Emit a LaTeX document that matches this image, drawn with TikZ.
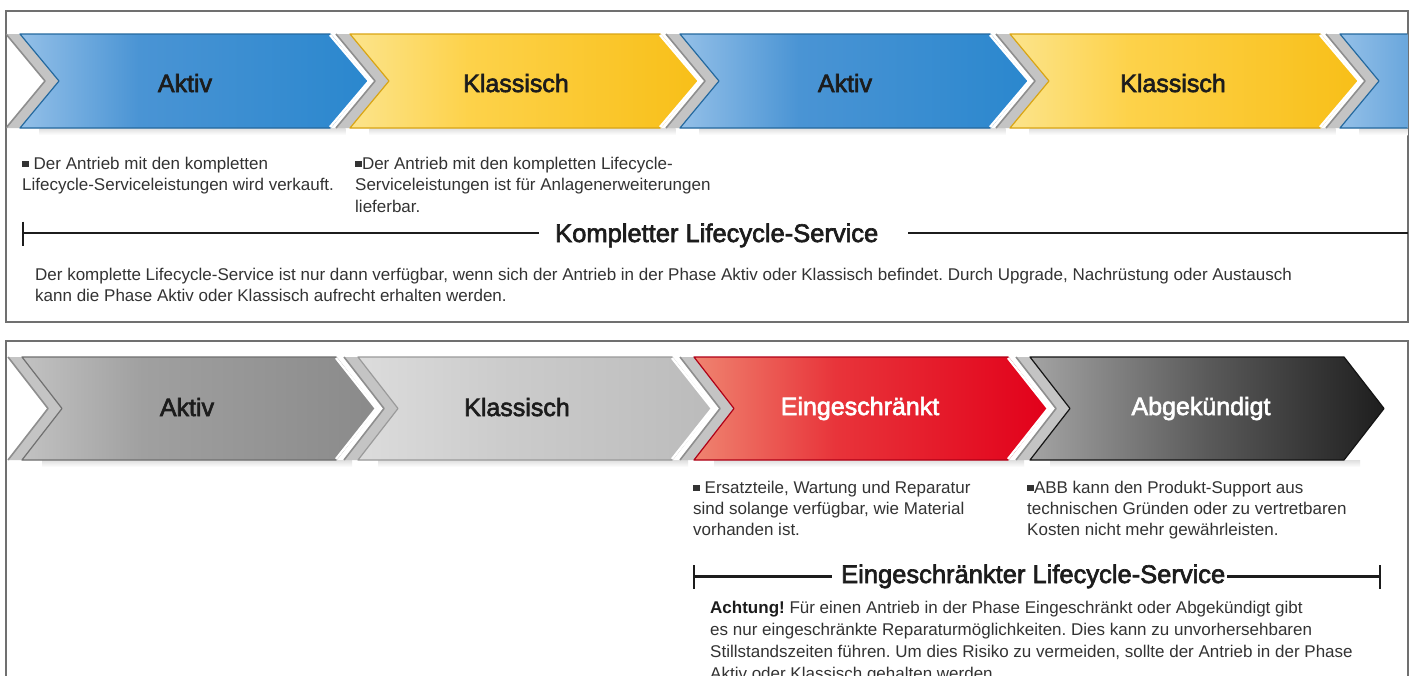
\documentclass[tikz,border=0pt]{standalone}
\usepackage{fontspec}
\setmainfont{Liberation Sans}
\newfontfamily\medfont[FakeBold=2.5]{Liberation Sans}
\usetikzlibrary{calc}

\definecolor{framec}{HTML}{707070}
\definecolor{dark}{HTML}{1C1C1C}
\definecolor{txt}{HTML}{333333}
\definecolor{shad}{HTML}{C4C4C4}
\definecolor{shadedge}{HTML}{8E8E8E}
\definecolor{blueL}{HTML}{94C0E8}
\definecolor{blueM}{HTML}{4A94D4}
\definecolor{blueR}{HTML}{2A87CE}
\definecolor{blueE}{HTML}{24699F}
\definecolor{yelL}{HTML}{FCE48C}
\definecolor{yelM}{HTML}{FDD24A}
\definecolor{yelR}{HTML}{F8BF18}
\definecolor{yelE}{HTML}{D9A514}
\definecolor{g1L}{HTML}{C2C2C2}
\definecolor{g1M}{HTML}{A0A0A0}
\definecolor{g1R}{HTML}{8A8A8A}
\definecolor{g1E}{HTML}{707070}
\definecolor{g2L}{HTML}{DCDCDC}
\definecolor{g2M}{HTML}{CCCCCC}
\definecolor{g2R}{HTML}{BBBBBB}
\definecolor{g2E}{HTML}{9A9A9A}
\definecolor{redL}{HTML}{EF8470}
\definecolor{redM}{HTML}{E8343A}
\definecolor{redR}{HTML}{E2001A}
\definecolor{redE}{HTML}{B00016}
\definecolor{blkL}{HTML}{A4A4A4}
\definecolor{blkM}{HTML}{5A5A5A}
\definecolor{blkR}{HTML}{1E1E1E}
\definecolor{blkE}{HTML}{141414}

\pgfdeclarehorizontalshading{blueshade}{100bp}{color(0bp)=(blueL); color(25bp)=(blueL); color(42bp)=(blueM); color(75bp)=(blueR); color(100bp)=(blueR)}
\pgfdeclarehorizontalshading{yelshade}{100bp}{color(0bp)=(yelL); color(25bp)=(yelL); color(42bp)=(yelM); color(75bp)=(yelR); color(100bp)=(yelR)}
\pgfdeclarehorizontalshading{g1shade}{100bp}{color(0bp)=(g1L); color(25bp)=(g1L); color(42bp)=(g1M); color(75bp)=(g1R); color(100bp)=(g1R)}
\pgfdeclarehorizontalshading{g2shade}{100bp}{color(0bp)=(g2L); color(25bp)=(g2L); color(45bp)=(g2M); color(75bp)=(g2R); color(100bp)=(g2R)}
\pgfdeclarehorizontalshading{redshade}{100bp}{color(0bp)=(redL); color(25bp)=(redL); color(45bp)=(redM); color(75bp)=(redR); color(100bp)=(redR)}
\pgfdeclarehorizontalshading{blkshade}{100bp}{color(0bp)=(blkL); color(25bp)=(blkL); color(50bp)=(blkM); color(75bp)=(blkR); color(100bp)=(blkR)}

% chevron: #1 x, #2 ytop, #3 ybot, #4 body width, #5 depth, #6 options
\newcommand\chev[6]{\path[#6] (#1,#2) -- ({#1+#4},#2) -- ({#1+#4+#5},{(#2+#3)/2}) -- ({#1+#4},#3) -- (#1,#3) -- ({#1+#5},{(#2+#3)/2}) -- cycle;}
% back shadow of a chevron
\newcommand\chevshadow[5]{%
  \chev{#1-14}{#2}{#3}{#4}{#5}{fill=shad}
  \draw[shadedge, line width=1.6pt, line join=round] ({#1-14},#2) -- ({#1-14+#5},{(#2+#3)/2}) -- ({#1-14},#3);
  \shade[top color=black!13, bottom color=white] ({#1+#5*0.5},#3) rectangle ({#1+#4+#5*0.4},{#3+7});}
% white highlight on the tip
\newcommand\chevtip[5]{\draw[white, line width=2.4pt, line join=round] ({#1+#4},{#2+1}) -- ({#1+#4+#5},{(#2+#3)/2}) -- ({#1+#4},{#3-1});}

\newcommand\sq{\rule[0.1em]{0.4em}{0.4em}}

\tikzset{
  lbl/.style={font=\medfont\fontsize{25}{30}\selectfont, text=dark, inner sep=0pt, anchor=base},
  lblw/.style={lbl, text=white},
  head/.style={font=\medfont\fontsize{25.5}{30}\selectfont, text=dark, inner sep=0pt, anchor=base west},
  body/.style={font=\fontsize{17}{21}\selectfont\frenchspacing, text=txt, inner sep=0pt, anchor=base west},
  frame/.style={draw=framec, line width=1.4pt},
  rulel/.style={draw=dark, line width=2.4pt},
  tick/.style={draw=dark, line width=2pt},
}

\begin{document}
\begin{tikzpicture}[x=1pt, y=-1pt]
\path[use as bounding box] (0,0) rectangle (1411,675);
\clip (0,0) rectangle (1411,675);
\fill[white] (0,0) rectangle (1411,675);

% ---------------- top panel ----------------
\draw[frame] (6,11) rectangle (1408,322);
\begin{scope}
\clip (6.7,11.7) rectangle (1407.3,321.3);
\foreach \x in {20,350,680,1010,1340}{\chevshadow{\x}{34}{128}{310}{39}}
\chev{20}{34}{128}{310}{39}{shading=blueshade}
\chev{20}{34}{128}{310}{39}{draw=blueE, line width=1.2pt, line join=round}
\chevtip{20}{34}{128}{310}{39}
\chev{350}{34}{128}{310}{39}{shading=yelshade}
\chev{350}{34}{128}{310}{39}{draw=yelE, line width=1.2pt, line join=round}
\chevtip{350}{34}{128}{310}{39}
\chev{680}{34}{128}{310}{39}{shading=blueshade}
\chev{680}{34}{128}{310}{39}{draw=blueE, line width=1.2pt, line join=round}
\chevtip{680}{34}{128}{310}{39}
\chev{1010}{34}{128}{310}{39}{shading=yelshade}
\chev{1010}{34}{128}{310}{39}{draw=yelE, line width=1.2pt, line join=round}
\chevtip{1010}{34}{128}{310}{39}
\chev{1340}{34}{128}{310}{39}{shading=blueshade}
\chev{1340}{34}{128}{310}{39}{draw=blueE, line width=1.2pt, line join=round}
\end{scope}

\node[lbl] (ta1) at (185,92) {Aktiv};
\node[lbl] (tk1) at (516,92) {Klassisch};
\node[lbl] (ta2) at (845,92) {Aktiv};
\node[lbl] (tk2) at (1173,92) {Klassisch};

\node[body] (b1a) at (22,169) {\sq{} Der Antrieb mit den kompletten};
\node[body] (b1b) at (22,190.5) {Lifecycle-Serviceleistungen wird verkauft.};
\node[body] (b2a) at (355,169) {\sq{}Der Antrieb mit den kompletten Lifecycle-};
\node[body] (b2b) at (355,190.5) {Serviceleistungen ist für Anlagenerweiterungen};
\node[body] (b2c) at (355,212) {lieferbar.};

\node[head] (hk) at (555,242) {Kompletter Lifecycle-Service};
\coordinate (hkL0) at (23,233);
\coordinate (hkL1) at (539,233);
\coordinate (hkR0) at (908,233);
\coordinate (hkR1) at (1408,233);
\draw[rulel] (hkL0) -- (hkL1);
\draw[rulel] (hkR0) -- (hkR1);
\draw[tick] (23,221.5) -- (23,245.5);

\node[body] (p1a) at (35,280) {Der komplette Lifecycle-Service ist nur dann verfügbar, wenn sich der Antrieb in der Phase Aktiv oder Klassisch befindet. Durch Upgrade, Nachrüstung oder Austausch};
\node[body] (p1b) at (35,301.5) {kann die Phase Aktiv oder Klassisch aufrecht erhalten werden.};

% ---------------- bottom panel ----------------
\draw[frame] (6,700) -- (6,341) -- (1408,341) -- (1408,700);
\foreach \x in {22,358,694,1030}{\chevshadow{\x}{357}{460}{314}{40}}
\chev{22}{357}{460}{314}{40}{shading=g1shade}
\chev{22}{357}{460}{314}{40}{draw=g1E, line width=1.2pt, line join=round}
\chevtip{22}{357}{460}{314}{40}
\chev{358}{357}{460}{314}{40}{shading=g2shade}
\chev{358}{357}{460}{314}{40}{draw=g2E, line width=1.2pt, line join=round}
\chevtip{358}{357}{460}{314}{40}
\chev{694}{357}{460}{314}{40}{shading=redshade}
\chev{694}{357}{460}{314}{40}{draw=redE, line width=1.2pt, line join=round}
\chevtip{694}{357}{460}{314}{40}
\chev{1030}{357}{460}{314}{40}{shading=blkshade}
\chev{1030}{357}{460}{314}{40}{draw=blkE, line width=1.2pt, line join=round}

\node[lbl] (ba1) at (187,416) {Aktiv};
\node[lbl] (bk1) at (517,416) {Klassisch};
\node[lblw] (be1) at (860,415) {Eingeschränkt};
\node[lblw] (bg1) at (1201,415) {Abgekündigt};

\node[body] (c1a) at (693,493) {\sq{} Ersatzteile, Wartung und Reparatur};
\node[body] (c1b) at (693,514) {sind solange verfügbar, wie Material};
\node[body] (c1c) at (693,535) {vorhanden ist.};
\node[body] (c2a) at (1027,493) {\sq{}ABB kann den Produkt-Support aus};
\node[body] (c2b) at (1027,514) {technischen Gründen oder zu vertretbaren};
\node[body] (c2c) at (1027,535) {Kosten nicht mehr gewährleisten.};

\node[head] (he) at (841,583) {Eingeschränkter Lifecycle-Service};
\coordinate (heL0) at (694,576.5);
\coordinate (heL1) at (832,576.5);
\coordinate (heR0) at (1227,576.5);
\coordinate (heR1) at (1380,576.5);
\draw[rulel] (heL0) -- (heL1);
\draw[rulel] (heR0) -- (heR1);
\draw[tick] (694,565) -- (694,589);
\draw[tick] (1380,565) -- (1380,589);

\node[body] (d1) at (710,613) {\textbf{\color{dark}Achtung!} Für einen Antrieb in der Phase Eingeschränkt oder Abgekündigt gibt};
\node[body] (d2) at (710,635) {es nur eingeschränkte Reparaturmöglichkeiten. Dies kann zu unvorhersehbaren};
\node[body] (d3) at (710,657) {Stillstandszeiten führen. Um dies Risiko zu vermeiden, sollte der Antrieb in der Phase};
\node[body] (d4) at (710,679) {Aktiv oder Klassisch gehalten werden.};
\end{tikzpicture}
\end{document}
